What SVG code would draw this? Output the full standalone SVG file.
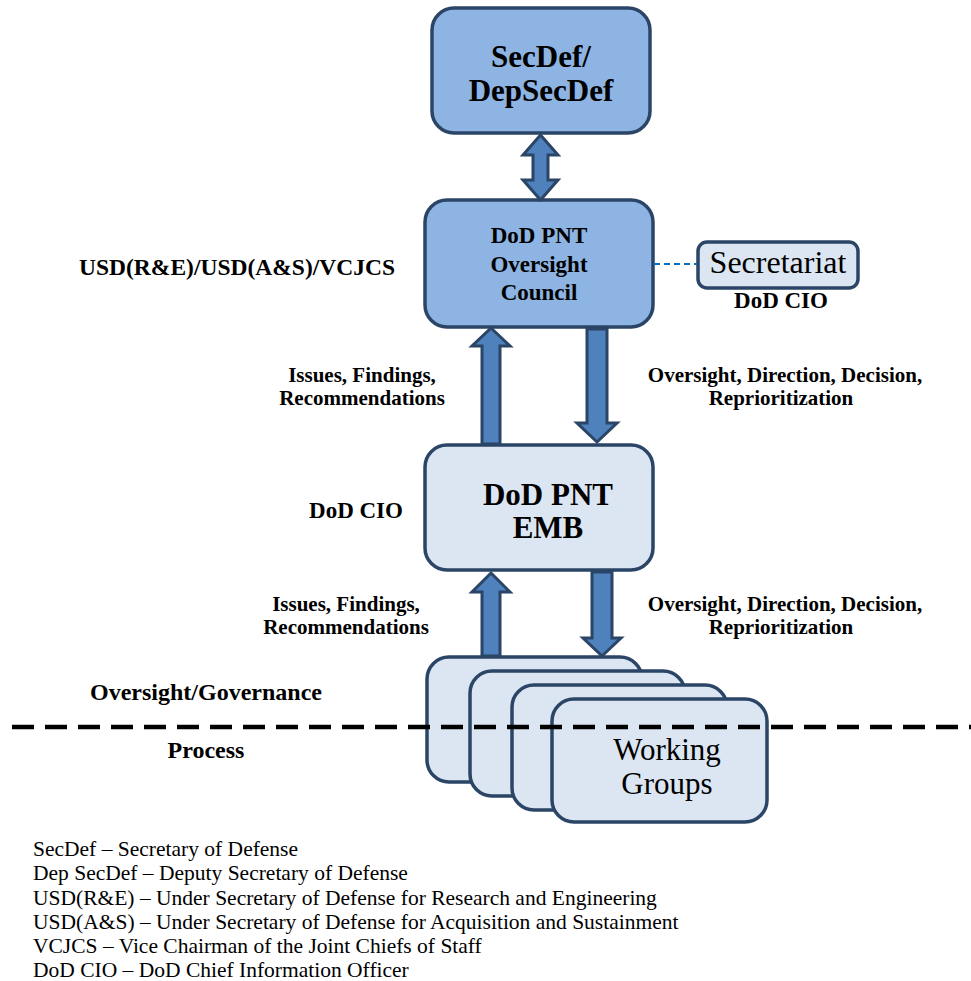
<svg xmlns="http://www.w3.org/2000/svg" width="971" height="981" viewBox="0 0 971 981">
<style>
text{font-family:"Liberation Serif","Times New Roman",serif;fill:#000}
.b{font-weight:bold}
.mid{fill:#8EB4E3;stroke:#2A4566;stroke-width:3.5}
.lt{fill:#DCE6F2;stroke:#2A4566;stroke-width:3.5}
.arr{fill:#4F81BD;stroke:#2A4566;stroke-width:3;stroke-linejoin:miter}
</style>
<rect width="971" height="981" fill="#fff"/>
<g id="secdef">
<rect class="mid" x="432" y="8" width="218" height="125" rx="22"/>
<text class="b" x="541" y="67" font-size="31" text-anchor="middle">SecDef/</text>
<text class="b" x="541" y="101" font-size="31" text-anchor="middle">DepSecDef</text>
</g>
<g id="council">
<rect class="mid" x="425" y="200" width="228" height="127" rx="22"/>
<text class="b" x="539" y="243" font-size="23" text-anchor="middle">DoD PNT</text>
<text class="b" x="539" y="272" font-size="23" text-anchor="middle">Oversight</text>
<text class="b" x="539" y="300" font-size="23" text-anchor="middle">Council</text>
</g>
<g id="secretariat">
<rect class="lt" x="698" y="242" width="160" height="46" rx="9" stroke-width="2.5"/>
<text x="778" y="273" font-size="32" text-anchor="middle">Secretariat</text>
<text class="b" x="781" y="308" font-size="23" text-anchor="middle">DoD CIO</text>
</g>
<g id="emb">
<rect class="lt" x="425" y="445" width="228" height="125" rx="22"/>
<text class="b" x="548" y="505" font-size="31" text-anchor="middle">DoD PNT</text>
<text class="b" x="548" y="538" font-size="31" text-anchor="middle">EMB</text>
</g>
<g id="working-groups">
<rect class="lt" x="427" y="657" width="215" height="125" rx="22"/>
<rect class="lt" x="470" y="671" width="215" height="125" rx="22"/>
<rect class="lt" x="512" y="685" width="215" height="125" rx="22"/>
<rect class="lt" x="552" y="699" width="215" height="123" rx="22"/>
<text x="667" y="760" font-size="31" text-anchor="middle">Working</text>
<text x="667" y="794" font-size="31" text-anchor="middle">Groups</text>
</g>
<g id="connectors">
<polygon class="arr" points="540.5,135 558,155 548,155 548,180 558,180 540.5,200 523,180 533,180 533,155 523,155"/>
<polygon class="arr" points="491,328 510,346 500,346 500,444 482,444 482,346 472,346"/>
<polygon class="arr" points="587,329 607,329 607,423 617,423 597,442 577,423 587,423"/>
<polygon class="arr" points="491,573 510,592 500,592 500,656 482,656 482,592 472,592"/>
<polygon class="arr" points="592,572 612,572 612,638 621,638 602,656 583,638 592,638"/>
<line x1="654" y1="264" x2="697" y2="264" stroke="#0070C0" stroke-width="2" stroke-dasharray="6,4"/>
</g>
<g id="labels">
<text class="b" x="237" y="275" font-size="23.5" text-anchor="middle">USD(R&amp;E)/USD(A&amp;S)/VCJCS</text>
<text class="b" x="362" y="382" font-size="21" text-anchor="middle">Issues, Findings,</text>
<text class="b" x="362" y="405" font-size="21" text-anchor="middle">Recommendations</text>
<text class="b" x="785" y="382" font-size="21" text-anchor="middle">Oversight, Direction, Decision,</text>
<text class="b" x="781" y="405" font-size="21" text-anchor="middle">Reprioritization</text>
<text class="b" x="356" y="518" font-size="23" text-anchor="middle">DoD CIO</text>
<text class="b" x="346" y="611" font-size="21" text-anchor="middle">Issues, Findings,</text>
<text class="b" x="346" y="634" font-size="21" text-anchor="middle">Recommendations</text>
<text class="b" x="785" y="611" font-size="21" text-anchor="middle">Oversight, Direction, Decision,</text>
<text class="b" x="781" y="634" font-size="21" text-anchor="middle">Reprioritization</text>
<text class="b" x="206" y="700" font-size="24" text-anchor="middle">Oversight/Governance</text>
<text class="b" x="206" y="758" font-size="24" text-anchor="middle">Process</text>
</g>
<line x1="12" y1="727" x2="971" y2="727" stroke="#000" stroke-width="4.5" stroke-dasharray="22,11"/>
<g id="legend" font-size="21.5">
<text x="33" y="856">SecDef – Secretary of Defense</text>
<text x="33" y="880">Dep SecDef – Deputy Secretary of Defense</text>
<text x="33" y="905">USD(R&amp;E) – Under Secretary of Defense for Research and Engineering</text>
<text x="33" y="929">USD(A&amp;S) – Under Secretary of Defense for Acquisition and Sustainment</text>
<text x="33" y="953">VCJCS – Vice Chairman of the Joint Chiefs of Staff</text>
<text x="33" y="977">DoD CIO – DoD Chief Information Officer</text>
</g>
</svg>
